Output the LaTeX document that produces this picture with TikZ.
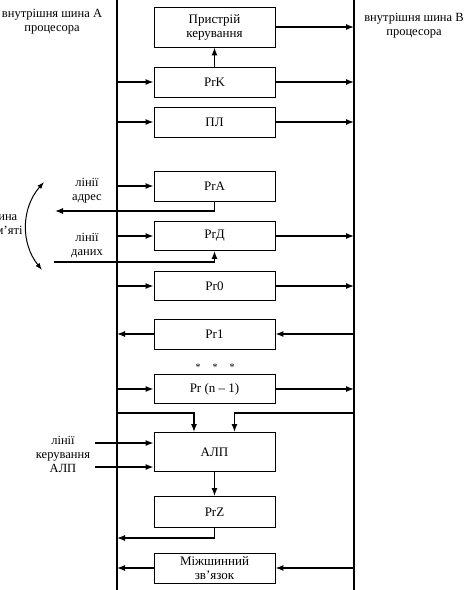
\documentclass[tikz,border=0pt]{standalone}
\usepackage{fontspec}
\setmainfont{Liberation Serif}
\usetikzlibrary{arrows.meta,calc}
\begin{document}
\begin{tikzpicture}[x=1pt,y=-1pt,
  box/.style={draw,line width=0.9pt,minimum width=121pt,inner sep=0pt,align=center,font=\fontsize{13}{14}\selectfont},
  arr/.style={line width=1.3pt,-{Latex[length=8pt,width=6pt]}},
  arrtwo/.style={line width=1pt,{Latex[length=7pt,width=5pt]}-{Latex[length=7pt,width=5pt]}},
  bus/.style={line width=2.6pt},
  lbl/.style={align=center,inner sep=0pt,font=\fontsize{12.5}{14}\selectfont}]
\useasboundingbox (0,0) rectangle (468,590);
% buses
\coordinate (At) at (117,0);
\coordinate (Ab) at (117,590);
\coordinate (Bt) at (354,0);
\coordinate (Bb) at (354,590);
\draw[bus] (At) -- (Ab);
\draw[bus] (Bt) -- (Bb);
% titles
\node[lbl] (ta) at (52,22) {внутрішня шина А\\процесора};
\node[lbl] (tb) at (414,26) {внутрішня шина В\\процесора};
% boxes
\node[box,minimum height=40pt] (pk) at (214.5,27) {Пристрій\\керування};
\node[box,minimum height=30pt] (prk) at (214.5,82) {PrK};
\node[box,minimum height=30pt] (pl) at (214.5,122) {ПЛ};
\node[box,minimum height=30pt] (pra) at (214.5,186) {PrA};
\node[box,minimum height=29pt] (prd) at (214.5,236) {PrД};
\node[box,minimum height=29pt] (pr0) at (214.5,286) {Pr0};
\node[box,minimum height=30pt] (pr1) at (214.5,334) {Pr1};
\node[box,minimum height=29pt] (prn) at (214.5,389) {Pr (n – 1)};
\node[box,minimum height=39pt] (alu) at (214.5,452) {АЛП};
\node[box,minimum height=31pt] (prz) at (214.5,512) {PrZ};
\node[box,minimum height=30pt] (mzz) at (214.5,568) {Міжшинний\\зв’язок};
% dots
\node[inner sep=0pt,font=\fontsize{10}{10}\selectfont] (d1) at (198,367) {*};
\node[inner sep=0pt,font=\fontsize{10}{10}\selectfont] (d2) at (215,367) {*};
\node[inner sep=0pt,font=\fontsize{10}{10}\selectfont] (d3) at (232,367) {*};
% bus A -> boxes
\foreach \n in {prk,pl,pra,prd,pr0,prn}
  \draw[arr] (At |- \n.west) -- (\n.west);
% boxes -> bus B
\foreach \n in {pk,prk,pl,prd,pr0,prn}
  \draw[arr] (\n.east) -- (Bt |- \n.east);
% PrK -> control unit
\draw[arr] (prk.north) -- (pk.south);
% Pr1 and Mzz
\draw[arr] (pr1.west) -- (At |- pr1.west);
\draw[arr] (Bt |- pr1.east) -- (pr1.east);
\draw[arr] (mzz.west) -- (At |- mzz.west);
\draw[arr] (Bt |- mzz.east) -- (mzz.east);
% memory bus
\coordinate (addr) at (55,211);
\coordinate (data) at (54,262);
\draw[arr] (pra.south) |- (addr);
\draw[arr] (data) -| (prd.south);
\node[lbl] (la) at (87,191) {лінії\\адрес};
\node[lbl] (ld) at (87,246) {лінії\\даних};
\coordinate (m1) at (44,182);
\coordinate (m2) at (42,270);
\draw[arrtwo] (m1) to[bend right=40] (m2);
\node[lbl] (mem) at (3,225) {шина\\пам’яті};
% ALU inputs
\coordinate (fa) at (117,413);
\coordinate (fb) at (354,413);
\draw[arr] (fa) -| ([xshift=-20.5pt]alu.north);
\draw[arr] (fb) -| ([xshift=20pt]alu.north);
\coordinate (c1) at (95,443);
\coordinate (c2) at (95,467);
\draw[arr] (c1) -- (c1 -| alu.west);
\draw[arr] (c2) -- (c2 -| alu.west);
\node[lbl] (lc) at (63,454) {лінії\\керування\\АЛП};
% ALU -> PrZ -> bus A
\draw[arr] (alu.south) -- (prz.north);
\coordinate (zret) at (117,538);
\draw[arr] (prz.south) |- (zret);
\end{tikzpicture}
\end{document}
